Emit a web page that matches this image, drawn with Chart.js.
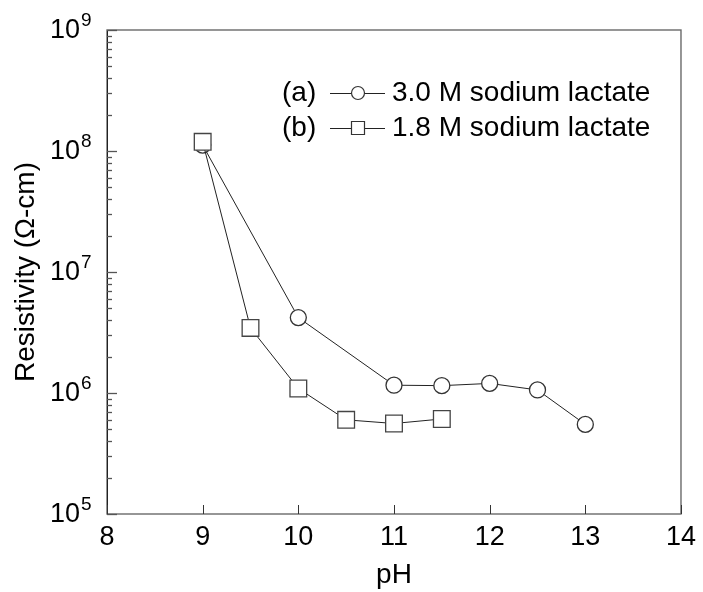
<!DOCTYPE html>
<html><head><meta charset="utf-8">
<script src="https://cdn.jsdelivr.net/npm/chart.js@4/dist/chart.umd.min.js"></script>
<style>html,body{margin:0;padding:0;background:#fff;}#wrap{width:703px;height:592px;}</style>
</head><body><div id="wrap"><canvas id="c" width="703" height="592"></canvas></div>
<script>
// ---- data ----
const pH_a = [9, 10, 11, 11.5, 12, 12.5, 13];
const rho_a = [1.12e8, 4.2e6, 1.16e6, 1.15e6, 1.2e6, 1.06e6, 5.5e5];
const pH_b = [9, 9.5, 10, 10.5, 11, 11.5];
const rho_b = [1.19e8, 3.45e6, 1.09e6, 6.0e5, 5.6e5, 6.1e5];
const xTickValues = [8, 9, 10, 11, 12, 13, 14];
const yDecades = [5, 6, 7, 8, 9];
const legendA = ['(a)', '3.0 M sodium lactate'];
const legendB = ['(b)', '1.8 M sodium lactate'];
const xTitle = 'pH';
const yTitle = 'Resistivity (\u03A9-cm)';

const FONT = '"Liberation Sans", Arial, Helvetica, sans-serif';

const toPts = (xs, ys) => xs.map((x, i) => ({x: x, y: ys[i]}));

const framePlugin = {
  id: 'frame',
  afterDraw(chart) {
    const {ctx, chartArea: a, scales: {x, y}} = chart;
    ctx.save();
    // frame
    ctx.lineWidth = 1.4;
    ctx.strokeStyle = '#6a6a6a';
    ctx.strokeRect(a.left, a.top, a.right - a.left, a.bottom - a.top);
    ctx.strokeStyle = '#222';
    ctx.lineWidth = 1;
    ctx.beginPath(); ctx.moveTo(a.left + 0.5, a.top); ctx.lineTo(a.left + 0.5, a.bottom); ctx.stroke();
    // y ticks (inward)
    ctx.strokeStyle = '#555';
    ctx.lineWidth = 1.3;
    for (let d = yDecades[0]; d <= yDecades[yDecades.length - 1]; d++) {
      const py = Math.round(y.getPixelForValue(Math.pow(10, d))) + 0.5;
      ctx.beginPath(); ctx.moveTo(a.left, py); ctx.lineTo(a.left + 10, py); ctx.stroke();
      if (d < yDecades[yDecades.length - 1]) {
        for (let k = 2; k <= 9; k++) {
          const pm = Math.round(y.getPixelForValue(k * Math.pow(10, d))) + 0.5;
          ctx.beginPath(); ctx.moveTo(a.left, pm); ctx.lineTo(a.left + 5, pm); ctx.stroke();
        }
      }
    }
    // x ticks (inward)
    ctx.strokeStyle = '#333';
    ctx.lineWidth = 1;
    xTickValues.forEach(v => {
      const px = Math.round(x.getPixelForValue(v)) + 0.5;
      ctx.beginPath(); ctx.moveTo(px, a.bottom); ctx.lineTo(px, a.bottom - 9); ctx.stroke();
    });
    // y tick labels with superscripts
    ctx.fillStyle = '#000';
    yDecades.forEach(d => {
      const py = y.getPixelForValue(Math.pow(10, d));
      ctx.font = '27px ' + FONT;
      ctx.textAlign = 'right';
      ctx.textBaseline = 'alphabetic';
      ctx.fillText('10', 80, py + 8);
      ctx.font = '19px ' + FONT;
      ctx.textAlign = 'left';
      ctx.fillText(String(d), 81, py - 4);
    });
    // legend
    const rows = [
      {lab: legendA, y: 93, style: 'circle'},
      {lab: legendB, y: 128, style: 'rect'}
    ];
    rows.forEach(r => {
      ctx.font = '28px ' + FONT;
      ctx.textAlign = 'left';
      ctx.textBaseline = 'middle';
      ctx.fillStyle = '#000';
      ctx.fillText(r.lab[0], 282, r.y);
      ctx.fillText(r.lab[1], 392, r.y);
      ctx.strokeStyle = '#222';
      ctx.lineWidth = 1;
      ctx.beginPath(); ctx.moveTo(330, r.y + 0.5); ctx.lineTo(385, r.y + 0.5); ctx.stroke();
      ctx.fillStyle = '#fff';
      ctx.strokeStyle = '#333';
      ctx.lineWidth = 1.2;
      ctx.beginPath();
      if (r.style === 'circle') ctx.arc(358, r.y, 6.5, 0, Math.PI * 2);
      else ctx.rect(351.5, r.y - 6.5, 13, 13);
      ctx.fill(); ctx.stroke();
    });
    ctx.restore();
  }
};

new Chart(document.getElementById('c'), {
  type: 'scatter',
  data: {
    datasets: [
      {
        label: legendA[1],
        data: toPts(pH_a, rho_a),
        showLine: true,
        borderColor: '#222',
        borderWidth: 1,
        pointStyle: 'circle',
        pointRadius: 8,
        pointBorderWidth: 1.3,
        pointBorderColor: '#333',
        pointBackgroundColor: '#fff',
        order: 1
      },
      {
        label: legendB[1],
        data: toPts(pH_b, rho_b),
        showLine: true,
        borderColor: '#222',
        borderWidth: 1,
        pointStyle: 'rect',
        pointRadius: 11.8,
        pointBorderWidth: 1.3,
        pointBorderColor: '#444',
        pointBackgroundColor: '#fff',
        order: 0
      }
    ]
  },
  options: {
    responsive: false,
    animation: false,
    devicePixelRatio: 1,
    layout: {padding: {top: 30, right: 18, left: 0, bottom: 0}},
    plugins: {legend: {display: false}, tooltip: {enabled: false}},
    scales: {
      x: {
        type: 'linear', min: 8, max: 14,
        afterBuildTicks: s => { s.ticks = xTickValues.map(v => ({value: v})); },
        ticks: {font: {size: 27, family: FONT}, color: '#000', padding: 7, maxRotation: 0},
        grid: {display: false, drawTicks: false},
        border: {display: false},
        title: {display: true, text: xTitle, font: {size: 28, family: FONT}, color: '#000', padding: {top: 0, bottom: 0}},
        afterFit: s => { s.height = 78; }
      },
      y: {
        type: 'logarithmic', min: 1e5, max: 1e9,
        ticks: {display: false},
        grid: {display: false, drawTicks: false},
        border: {display: false},
        title: {display: true, text: yTitle, font: {size: 28, family: FONT}, color: '#000', padding: {top: 9, bottom: 0}},
        afterFit: s => { s.width = 107; }
      }
    }
  },
  plugins: [framePlugin]
});
</script>
</body></html>
